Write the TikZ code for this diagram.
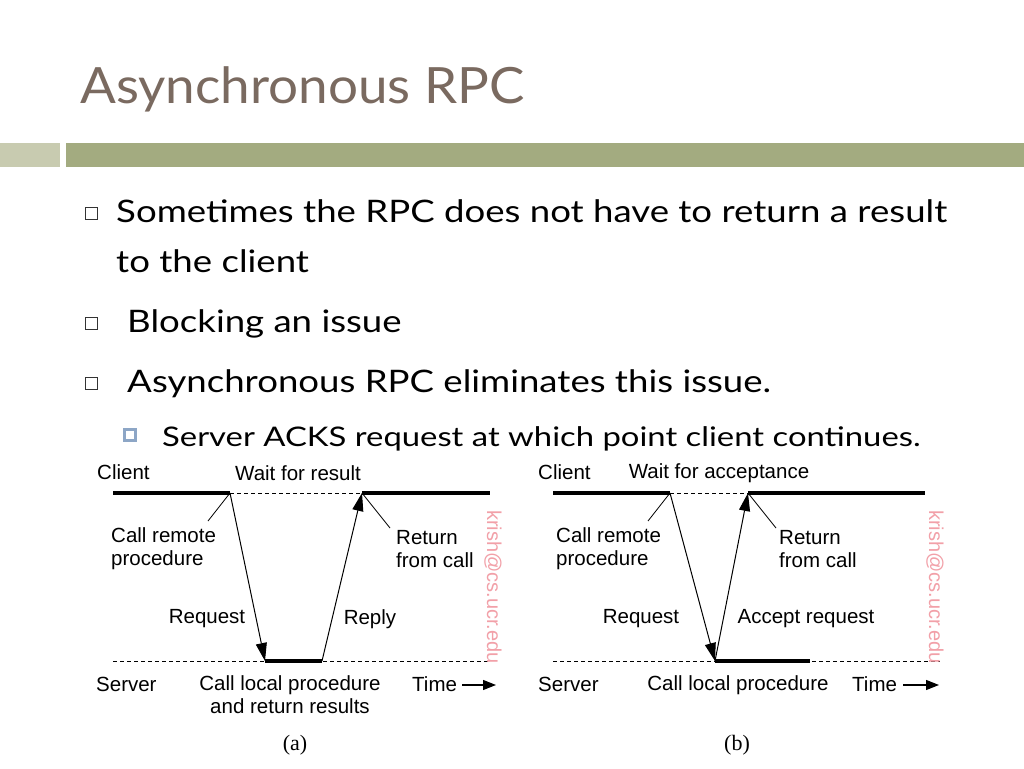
\documentclass[tikz,border=0pt]{standalone}
\usepackage{fontspec}
\setmainfont{Lato}
\newfontfamily\arial{Liberation Sans}
\newfontfamily\serifx{Liberation Serif}
\usetikzlibrary{arrows.meta}
\definecolor{titlec}{HTML}{7A6A60}
\definecolor{barl}{HTML}{C8CBB0}
\definecolor{bard}{HTML}{A3AB80}
\definecolor{subb}{HTML}{8DA6C6}
\definecolor{wm}{HTML}{F2A0A8}
\tikzset{
 thk/.style={line width=3.5pt},
 dsh/.style={dashed,line width=0.8pt,dash pattern=on 4pt off 3pt},
 arr/.style={line width=1pt,-{Triangle[length=18pt,width=11pt]}},
 lead/.style={line width=0.8pt},
 lbl/.style={font=\arial\fontsize{20.5}{23}\selectfont,inner sep=0pt,align=left},
 bul/.style={font=\fontsize{31}{38}\selectfont,anchor=base west,inner sep=0pt,xscale=1.18,transform shape},
 hbox/.style={draw=black!80,line width=0.8pt,minimum size=12pt,inner sep=0pt},
 wmk/.style={font=\arial\fontsize{20}{23}\selectfont,text=wm,rotate=-90,inner sep=0pt},
}
\begin{document}
\begin{tikzpicture}[x=1pt,y=-1pt]
\useasboundingbox (0,0) rectangle (1024,768);
\fill[white] (0,0) rectangle (1024,768);
\node[anchor=base west,inner sep=0pt,text=titlec,font=\fontsize{50}{60}\selectfont,xscale=1.06,transform shape] (title) at (80,103) {Asynchronous RPC};
\fill[barl] (0,143) rectangle (60,167);
\fill[bard] (66,143) rectangle (1024,167);
% bullets
\node[hbox] (b1) at (91,213) {};
\node[bul] (t1) at (116,222) {Sometimes the RPC does not have to return a result};
\node[bul] (t1b) at (116,272) {to the client};
\node[hbox] (b2) at (91,323) {};
\node[bul] (t2) at (127,332) {Blocking an issue};
\node[hbox] (b3) at (91,383) {};
\node[bul] (t3) at (127,392) {Asynchronous RPC eliminates this issue.};
\node[draw=subb,line width=2.5pt,fill=white,minimum size=11pt,inner sep=0pt] (b4) at (130,435) {};
\node[bul,font=\fontsize{27}{32}\selectfont,xscale=1.03] (t4) at (162,446) {Server ACKS request at which point client continues.};
% diagram (a)
\coordinate (a1) at (113,493); \coordinate (a2) at (230,493);
\coordinate (a3) at (362,493); \coordinate (a4) at (490,493);
\coordinate (s1) at (113,661); \coordinate (s2) at (265,661);
\coordinate (s3) at (322,661); \coordinate (s4) at (490,661);
\draw[thk] (a1) -- (a2); \draw[dsh] (a2) -- (a3); \draw[thk] (a3) -- (a4);
\draw[dsh] (s1) -- (s4); \draw[thk] (s2) -- (s3);
\draw[arr] (a2) -- (s2); \draw[arr] (s3) -- (a3);
\coordinate (la) at (208,521); \coordinate (lb) at (390,528);
\draw[lead] (a2) -- (la); \draw[lead] (a3) -- (lb);
\node[lbl,anchor=west] (ca) at (97,472) {Client};
\node[lbl] (wa) at (298,473) {Wait for result};
\node[lbl,anchor=west] (cr) at (111,549) {Call remote\\procedure};
\node[lbl,anchor=west] (rf) at (396,549) {Return\\from call};
\node[lbl] (rq) at (207,619) {Request};
\node[lbl] (rp) at (370,619) {Reply};
\node[lbl,anchor=west] (sa) at (96,684) {Server};
\node[lbl,align=center] (cl) at (290,695) {Call local procedure\\and return results};
\node[lbl,anchor=west] (ti) at (412,684) {Time};
\coordinate (ta1) at (462,685); \coordinate (ta2) at (496,685);
\draw[line width=1.2pt,-{Triangle[length=13pt,width=10pt]}] (ta1) -- (ta2);
\node[wmk,anchor=west] (wa1) at (493,510) {krish@cs.ucr.edu};
\node[font=\serifx\fontsize{22}{26}\selectfont] (la1) at (295,745) {(a)};
% diagram (b)
\coordinate (b1a) at (553,493); \coordinate (b2a) at (670,493);
\coordinate (b3a) at (748,493); \coordinate (b4a) at (925,493);
\coordinate (v1) at (553,661); \coordinate (v2) at (715,661);
\coordinate (v3) at (810,661); \coordinate (v4) at (940,661);
\draw[thk] (b1a) -- (b2a); \draw[dsh] (b2a) -- (b3a); \draw[thk] (b3a) -- (b4a);
\draw[dsh] (v1) -- (v4); \draw[thk] (v2) -- (v3);
\draw[arr] (b2a) -- (v2); \draw[arr] (v2) -- (b3a);
\coordinate (lc) at (648,521); \coordinate (ld) at (776,528);
\draw[lead] (b2a) -- (lc); \draw[lead] (b3a) -- (ld);
\node[lbl,anchor=west] (cb) at (538,472) {Client};
\node[lbl] (wb) at (719,473) {Wait for acceptance};
\node[lbl,anchor=west] (cr2) at (556,549) {Call remote\\procedure};
\node[lbl,anchor=west] (rf2) at (779,549) {Return\\from call};
\node[lbl] (rq2) at (641,619) {Request};
\node[lbl] (ar2) at (806,619) {Accept request};
\node[lbl,anchor=west] (sb) at (538,684) {Server};
\node[lbl] (cl2) at (738,685) {Call local procedure};
\node[lbl,anchor=west] (ti2) at (852,684) {Time};
\coordinate (tb1) at (903,685); \coordinate (tb2) at (939,685);
\draw[line width=1.2pt,-{Triangle[length=13pt,width=10pt]}] (tb1) -- (tb2);
\node[wmk,anchor=west] (wb1) at (935,510) {krish@cs.ucr.edu};
\node[font=\serifx\fontsize{22}{26}\selectfont] (lb1) at (737,745) {(b)};
\end{tikzpicture}
\end{document}
